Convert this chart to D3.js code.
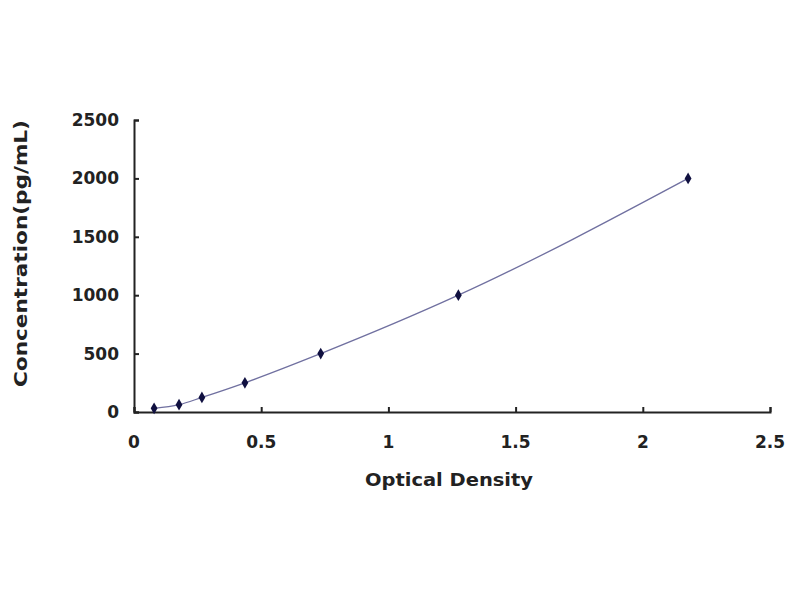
<!DOCTYPE html>
<html>
<head>
<meta charset="utf-8">
<script src="https://cdn.jsdelivr.net/npm/d3@7"></script>
<style>
  body { margin: 0; background: #fff; }
  svg text { font-family: "DejaVu Sans", "Liberation Sans", Arial, sans-serif; font-weight: bold; fill: #222; }
</style>
</head>
<body>
<script>
// Standard curve readings
let od = [0.079, 0.177, 0.267, 0.436, 0.734, 1.275, 2.178];
let conc = [31.25, 62.5, 125, 250, 500, 1000, 2000];
let xTicks = [0, 0.5, 1, 1.5, 2, 2.5];
let yTicks = [0, 500, 1000, 1500, 2000, 2500];

let opts = {
    width: 800,
    height: 600,
    left: 134,
    right: 770,
    top: 120,
    bottom: 412
};

let svg = d3.select("body")
            .append("svg")
            .attr("width", opts.width)
            .attr("height", opts.height);

let x = d3.scaleLinear().domain([0, 2.5]).range([opts.left, opts.right]);
let y = d3.scaleLinear().domain([0, 2500]).range([opts.bottom, opts.top]);

// Axes with inward ticks
let xAxis = svg.append("g")
    .attr("transform", `translate(0,${opts.bottom})`)
    .call(d3.axisTop(x).tickValues(xTicks).tickSize(5).tickSizeOuter(5));
xAxis.selectAll("text").remove();
xAxis.selectAll("line, path").attr("stroke", "#222").attr("stroke-width", 2);

let yAxis = svg.append("g")
    .attr("transform", `translate(${opts.left},0)`)
    .call(d3.axisRight(y).tickValues(yTicks).tickSize(5).tickSizeOuter(5));
yAxis.selectAll("text").remove();
yAxis.selectAll("line, path").attr("stroke", "#222").attr("stroke-width", 2);

// Tick labels
svg.selectAll(".xlab")
   .data(xTicks)
   .enter().append("text")
   .attr("x", (d) => x(d))
   .attr("y", 448)
   .attr("text-anchor", "middle")
   .attr("font-size", 17)
   .text((d) => d);

svg.selectAll(".ylab")
   .data(yTicks)
   .enter().append("text")
   .attr("x", 119)
   .attr("y", (d) => y(d) + 6)
   .attr("text-anchor", "end")
   .attr("font-size", 17)
   .text((d) => d);

// Axis titles
svg.append("text")
   .attr("x", 365)
   .attr("y", 486)
   .attr("font-size", 18)
   .attr("textLength", 168)
   .attr("lengthAdjust", "spacingAndGlyphs")
   .text("Optical Density");

svg.append("text")
   .attr("transform", "translate(27,387) rotate(-90)")
   .attr("font-size", 17)
   .attr("textLength", 267)
   .attr("lengthAdjust", "spacingAndGlyphs")
   .text("Concentration(pg/mL)");

// Fitted curve
let pts = od.map((d, i) => [d, conc[i]]);
svg.append("path")
   .datum(pts)
   .attr("fill", "none")
   .attr("stroke", "#7070a0")
   .attr("stroke-width", 1.3)
   .attr("d", d3.line().x((d) => x(d[0])).y((d) => y(d[1])).curve(d3.curveMonotoneX));

// Data points
svg.selectAll(".pt")
   .data(pts)
   .enter().append("path")
   .attr("transform", (d) => `translate(${x(d[0])},${y(d[1])})`)
   .attr("d", d3.symbol(d3.symbolDiamond, 40))
   .attr("fill", "#101040");
</script>
</body>
</html>
